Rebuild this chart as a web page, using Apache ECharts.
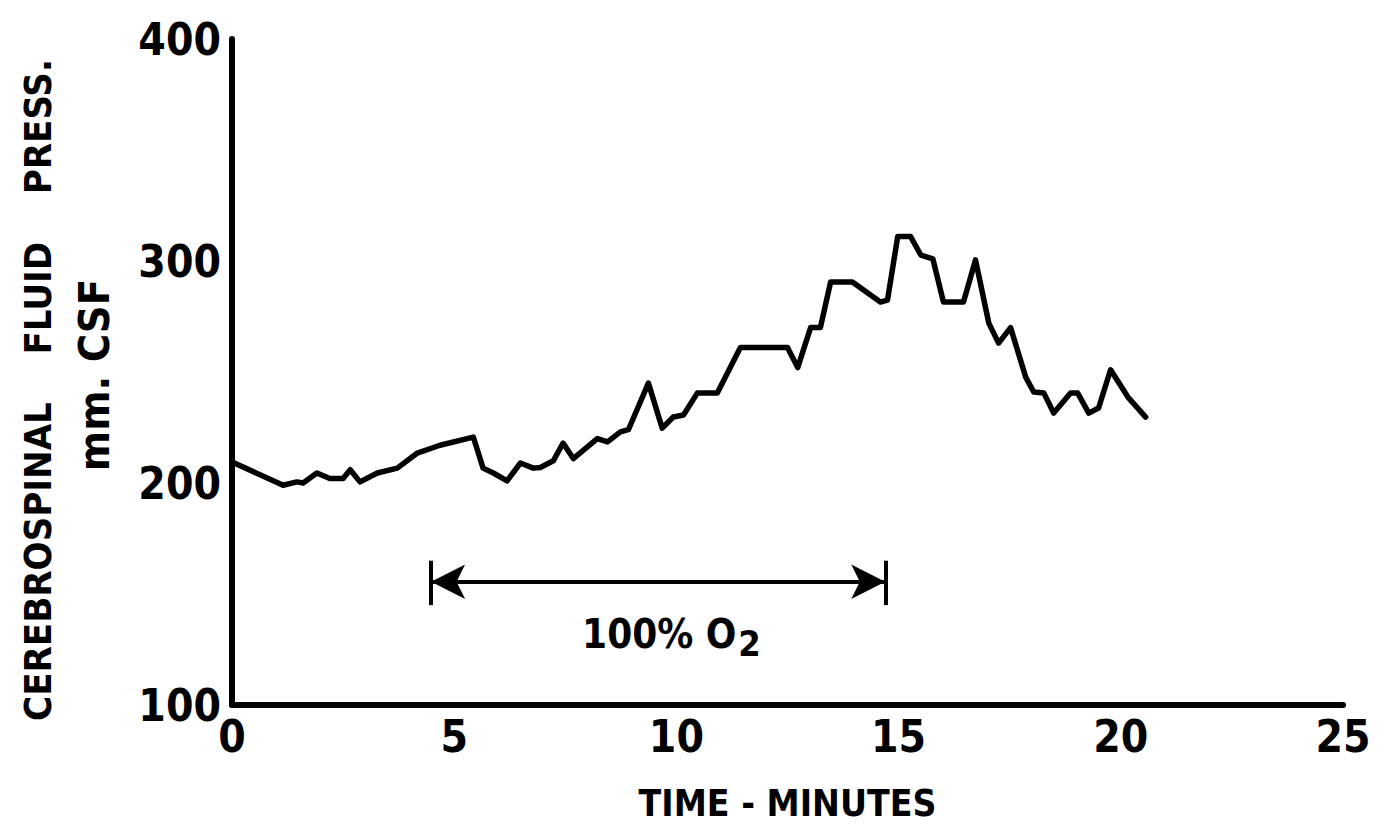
<!DOCTYPE html>
<html>
<head>
<meta charset="utf-8">
<script src="https://cdn.jsdelivr.net/npm/echarts@6/dist/echarts.min.js"></script>
<style>
html,body{margin:0;padding:0;background:#fff;}
#chart{width:1388px;height:830px;}
</style>
</head>
<body>
<div id="chart"></div>
<script>
// ---- data ----
const timeMin = [0, 1.15, 1.46, 1.6, 1.91, 2.2, 2.5, 2.66, 2.88, 3.27, 3.72, 4.17, 4.68, 5.43, 5.65, 5.88, 6.19, 6.49, 6.78, 6.94, 7.23, 7.45, 7.68, 8.22, 8.45, 8.74, 8.92, 9.37, 9.68, 9.93, 10.16, 10.47, 10.92, 11.44, 12.5, 12.73, 13.02, 13.24, 13.47, 13.96, 14.59, 14.75, 14.98, 15.27, 15.5, 15.77, 16.01, 16.46, 16.73, 17.03, 17.25, 17.52, 17.86, 18.04, 18.27, 18.49, 18.87, 19.03, 19.28, 19.5, 19.77, 20.16, 20.56];
const pressure = [209.5, 199, 200.5, 200, 204.5, 202, 202, 206, 200.5, 204.5, 206.7, 213.5, 217, 220.7, 206.7, 204.5, 201, 209, 206.7, 207, 210, 218, 211, 220, 218.5, 223, 224, 245, 224.7, 229.7, 230.6, 240.5, 240.5, 261, 261, 252, 270, 270, 290.5, 290.5, 281.5, 282.4, 311, 311, 302.7, 301, 281.5, 281.5, 300.5, 272, 263, 270, 247.7, 241, 240.5, 231.5, 240.5, 240.5, 231.5, 233.8, 251, 238.7, 229.7];
const xTicks = [0, 5, 10, 15, 20, 25];
const yTicks = [100, 200, 300, 400];
const o2Span = [4.48, 14.7];      // minutes, start / end of 100% O2
const o2Level = 155.5;            // arrow level (mm CSF)
const o2BarEnds = [165, 145];     // vertical end-bar extent
const o2LabelPos = [9.89, 132];
const o2LabelText = '100% O';
const o2Sub = '2';
const xTitle = 'TIME\u00a0-\u00a0MINUTES';
const yTitle1 = 'CEREBROSPINAL\u00a0\u00a0\u00a0\u00a0FLUID\u00a0\u00a0\u00a0\u00a0PRESS.';
const yTitle2 = 'mm.\u00a0CSF';

const FONT = '"DejaVu Sans Condensed","Liberation Sans Narrow","Liberation Sans",sans-serif';
const chart = echarts.init(document.getElementById('chart'), null, {renderer: 'svg'});

const curve = timeMin.map((t, i) => [t, pressure[i]]);

chart.setOption({
  animation: false,
  backgroundColor: '#fff',
  grid: {left: 232, right: 45, top: 39, bottom: 125},
  xAxis: {
    type: 'value',
    min: xTicks[0], max: xTicks[xTicks.length - 1], interval: xTicks[1] - xTicks[0],
    axisLine: {show: true, lineStyle: {color: '#000', width: 6}},
    axisTick: {show: false},
    splitLine: {show: false},
    axisLabel: {color: '#000', fontFamily: FONT, fontWeight: 'bold', fontSize: 44, margin: 9},
    name: xTitle,
    nameLocation: 'middle',
    nameGap: 80,
    nameTextStyle: {color: '#000', fontFamily: FONT, fontWeight: 'bold', fontSize: 37}
  },
  yAxis: {
    type: 'value',
    min: yTicks[0], max: yTicks[yTicks.length - 1], interval: yTicks[1] - yTicks[0],
    axisLine: {show: true, lineStyle: {color: '#000', width: 6}},
    axisTick: {show: false},
    splitLine: {show: false},
    axisLabel: {color: '#000', fontFamily: FONT, fontWeight: 'bold', fontSize: 44, margin: 11}
  },
  graphic: [
    {type: 'text', x: 38, y: 390, rotation: Math.PI / 2,
      style: {text: yTitle1, fill: '#000', font: 'bold 38px ' + FONT, align: 'center', verticalAlign: 'middle'}},
    {type: 'text', x: 94, y: 375, rotation: Math.PI / 2,
      style: {text: yTitle2, fill: '#000', font: 'bold 43px ' + FONT, align: 'center', verticalAlign: 'middle'}}
  ],
  series: [
    {
      type: 'line',
      data: curve,
      showSymbol: false,
      symbol: 'none',
      lineStyle: {color: '#000', width: 5.5, join: 'round', cap: 'round'},
      z: 3
    },
    {
      type: 'scatter',
      data: [o2LabelPos],
      symbolSize: 0,
      silent: true,
      itemStyle: {color: '#000', opacity: 1},
      label: {
        show: true, position: 'inside', color: '#000', textBorderWidth: 0, opacity: 1,
        formatter: '{a|' + o2LabelText + '}{s|' + o2Sub + '}',
        rich: {
          a: {color: '#000', fontFamily: FONT, fontWeight: 'bold', fontSize: 40, textBorderWidth: 0},
          s: {color: '#000', fontFamily: FONT, fontWeight: 'bold', fontSize: 36, padding: [20, 0, 0, 2], textBorderWidth: 0}
        }
      },
      markLine: {
        silent: true,
        symbol: ['none', 'none'],
        label: {show: false},
        lineStyle: {color: '#000', width: 4, type: 'solid', opacity: 1},
        data: [
          [{coord: [o2Span[0], o2Level], symbol: 'arrow', symbolSize: [26, 34]},
           {coord: [o2Span[1], o2Level], symbol: 'arrow', symbolSize: [26, 34]}],
          [{coord: [o2Span[0], o2BarEnds[0]]}, {coord: [o2Span[0], o2BarEnds[1]]}],
          [{coord: [o2Span[1], o2BarEnds[0]]}, {coord: [o2Span[1], o2BarEnds[1]]}]
        ]
      }
    }
  ]
});
</script>
</body>
</html>
